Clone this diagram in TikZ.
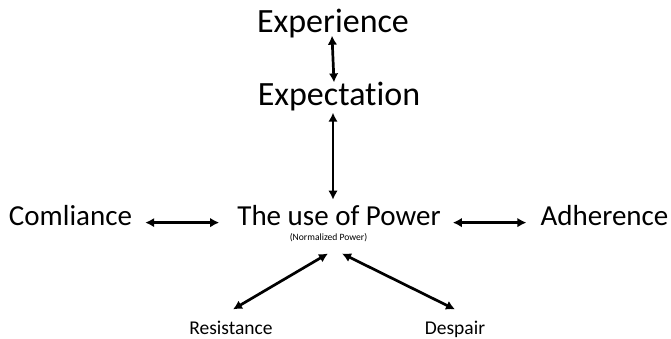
\documentclass[tikz,border=0pt]{standalone}
\usepackage{fontspec}
\setmainfont[Ligatures=NoCommon]{Carlito}
\usetikzlibrary{arrows.meta,positioning}

\tikzset{
    big/.style={font=\fontsize{34}{36}\selectfont, inner sep=0pt, anchor=base},
    mid/.style={font=\fontsize{29}{32}\selectfont, inner sep=0pt, anchor=base},
    small/.style={font=\fontsize{19.5}{22}\selectfont, inner sep=0pt, anchor=base},
    tiny/.style={font=\fontsize{9.6}{11}\selectfont, inner sep=0pt, anchor=base},
    both/.style={line width=2.7pt, {Latex[length=9pt,width=9.5pt]}-{Latex[length=9pt,width=9.5pt]}}
}

\begin{document}
\begin{tikzpicture}[x=1pt,y=-1pt]
    \useasboundingbox (0,0) rectangle (671,339);

    % top chain
    \node[big] (exper)  at (333,33)  {Experience};
    \node[big] (expect) at (339,106) {Expectation};

    % middle row
    \node[mid] (power) at (339,225)   {The use of Power};
    \node[tiny] (norm) at (328.5,240) {(Normalized Power)};
    \node[mid] (compl) at (70.5,225)  {Comliance};
    \node[mid] (adher) at (604.5,225) {Adherence};

    % bottom pair
    \node[small] (resist) at (231,334) {Resistance};
    \node[small] (desp)   at (455,334) {Despair};

    % connectors
    \draw[both] ([xshift=-1pt,yshift=3pt]exper.south) -- ([xshift=-5pt]expect.north);
    \draw[both] ([xshift=-6pt,yshift=-1pt]expect.south) -- ([xshift=-6pt,yshift=5pt]power.north);
    \draw[both, shorten <=13pt, shorten >=18pt] (compl.mid east) -- (power.mid west);
    \draw[both, shorten <=12pt, shorten >=14pt] (power.mid east) -- (adher.mid west);
    \draw[both] ([xshift=-0.5pt,yshift=-12pt]norm.south) -- ([xshift=2pt,yshift=11pt]resist.north);
    \draw[both] ([xshift=13.5pt,yshift=-12pt]norm.south) -- ([yshift=11pt]desp.north);
\end{tikzpicture}
\end{document}
